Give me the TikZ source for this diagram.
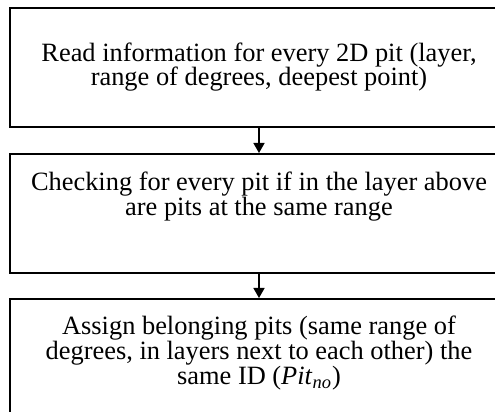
\documentclass[tikz,border=0pt]{standalone}
\usepackage{fontspec}
\setmainfont{Liberation Serif}
\usetikzlibrary{arrows.meta,positioning}
\begin{document}
\begin{tikzpicture}[x=0.5pt, y=-0.5pt,
  font=\fontsize{13.2pt}{12.5pt}\selectfont, >={Triangle[length=5pt,width=5.5pt]},
  box/.style={draw, line width=1pt, minimum width=249pt, minimum height=59.5pt, inner sep=0pt},
  txt/.style={align=center, inner sep=0pt, anchor=base}]
\useasboundingbox (0,0) rectangle (495,412);
\clip (0,0) rectangle (495,412);
% ---- boxes
\node[box] (read) at (259,67.5) {};
\node[box] (check) at (259,213.5) {};
\node[box] (assign) at (259,358.5) {};
% ---- texts (base = last line)
\node[txt] (readtxt) at (259,86) {Read information for every 2D pit (layer,\\range of degrees, deepest point)};
\node[txt] (checktxt) at (259,216) {Checking for every pit if in the layer above\\are pits at the same range};
\node[txt] (assigntxt) at (259,385) {Assign belonging pits (same range of\\degrees, in layers next to each other) the\\same ID (\textit{Pit}\textsubscript{\textit{no}})};
% ---- arrows
\draw[->, line width=0.7pt] (read) -- (check);
\draw[->, line width=0.7pt] (check) -- (assign);
\end{tikzpicture}
\end{document}
